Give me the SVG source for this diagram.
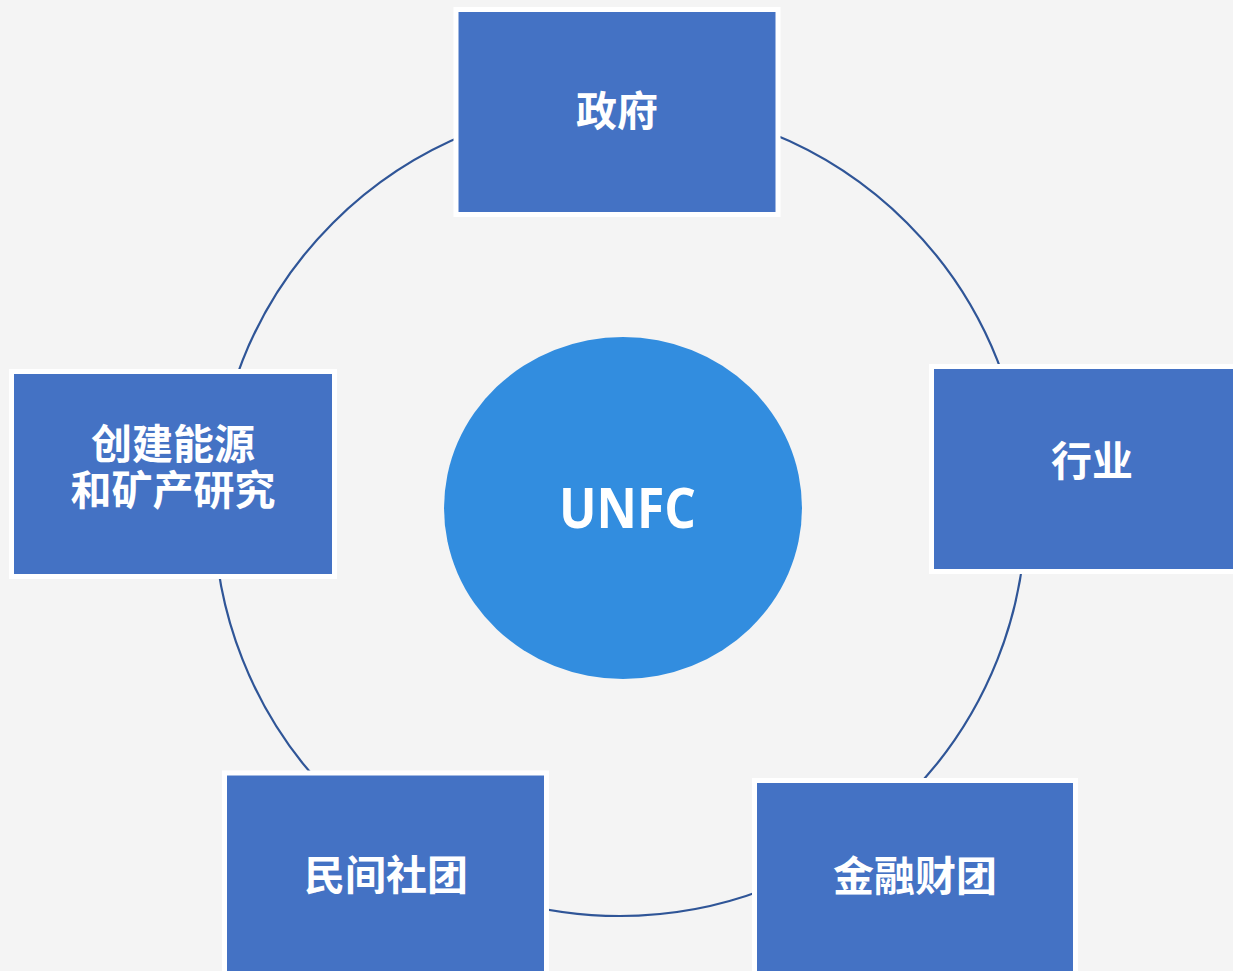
<svg xmlns="http://www.w3.org/2000/svg" width="1233" height="971" viewBox="0 0 1233 971">
<style>
.box{fill:#4472c4;stroke:#ffffff;stroke-width:5}
.lbl{font-family:"Noto Sans CJK SC","Noto Sans",sans-serif;font-weight:bold;font-size:41px;fill:#ffffff;text-anchor:middle}
.ring{fill:none;stroke:#2f5597;stroke-width:2.2}
</style>
<rect width="1233" height="971" fill="#f4f4f4"/>
<g id="connectors">
<circle class="ring" cx="620" cy="510" r="406"/>
</g>
<g id="center">
<ellipse cx="623" cy="508" rx="179" ry="171" fill="#328ddf"/>
<text x="627.5" y="528" font-family="'Open Sans','Noto Sans',sans-serif" font-weight="bold" font-size="56" fill="#ffffff" text-anchor="middle" textLength="137" lengthAdjust="spacingAndGlyphs">UNFC</text>
</g>
<g id="node-gov">
<rect class="box" x="456" y="9.5" width="322" height="205"/>
<text class="lbl" x="617" y="126">政府</text>
</g>
<g id="node-industry">
<rect class="box" x="931.5" y="366.5" width="330" height="205"/>
<text class="lbl" x="1092" y="476">行业</text>
</g>
<g id="node-research">
<rect class="box" x="11.5" y="371.5" width="323" height="205"/>
<text class="lbl" x="173" y="459">创建能源<tspan x="173" dy="46">和矿产研究</tspan></text>
</g>
<g id="node-civil">
<rect class="box" x="224.5" y="773" width="322" height="215"/>
<text class="lbl" x="386" y="890">民间社团</text>
</g>
<g id="node-finance">
<rect class="box" x="754.5" y="780.5" width="321" height="215"/>
<text class="lbl" x="915" y="891">金融财团</text>
</g>
</svg>
